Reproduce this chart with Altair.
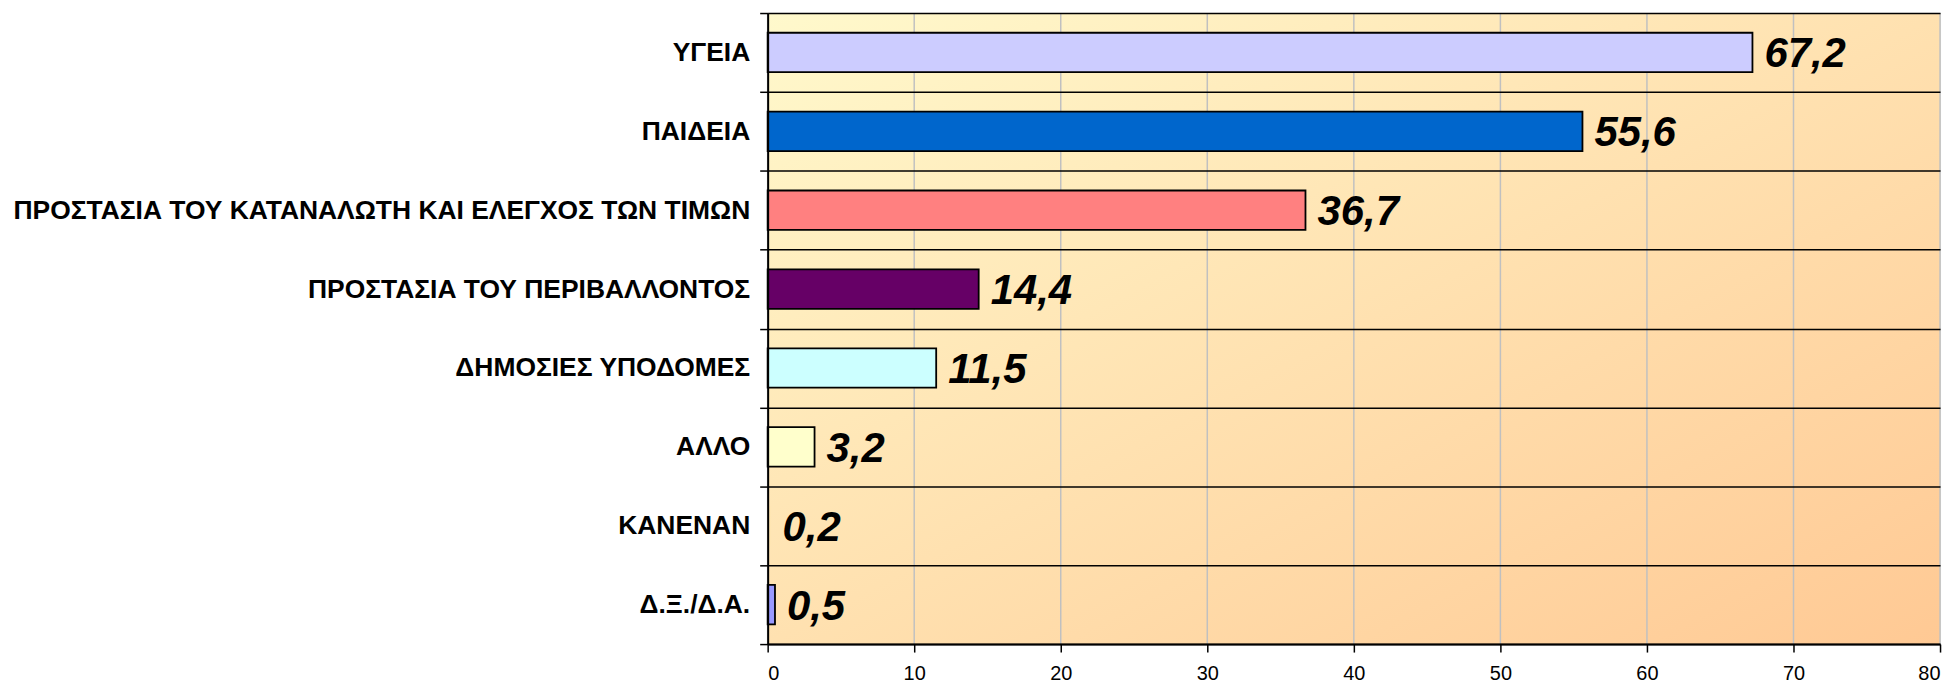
import altair as alt
import pandas as pd

categories = [
    "ΥΓΕΙΑ",
    "ΠΑΙΔΕΙΑ",
    "ΠΡΟΣΤΑΣΙΑ ΤΟΥ ΚΑΤΑΝΑΛΩΤΗ ΚΑΙ ΕΛΕΓΧΟΣ ΤΩΝ ΤΙΜΩΝ",
    "ΠΡΟΣΤΑΣΙΑ ΤΟΥ ΠΕΡΙΒΑΛΛΟΝΤΟΣ",
    "ΔΗΜΟΣΙΕΣ ΥΠΟΔΟΜΕΣ",
    "ΑΛΛΟ",
    "ΚΑΝΕΝΑΝ",
    "Δ.Ξ./Δ.Α.",
]
values = [67.2, 55.6, 36.7, 14.4, 11.5, 3.2, 0.2, 0.5]
bar_colors = ["#CCCCFF", "#0066CC", "#FF8080", "#660066", "#CCFFFF", "#FFFFCC", "#FFE6B0", "#9999FF"]
stroke_colors = ["#000000", "#000000", "#000000", "#000000", "#000000", "#000000", "transparent", "#000000"]
x_ticks = [0, 10, 20, 30, 40, 50, 60, 70, 80]

df = pd.DataFrame({"cat": categories, "value": values, "fillc": bar_colors, "strokec": stroke_colors})
ticks_df = pd.DataFrame({"t": x_ticks})

W, H = 1176, 633

x_scale = alt.Scale(domain=[0, 80], nice=False)
y_scale = alt.Scale(paddingInner=0, paddingOuter=0)

y_enc = alt.Y(
    "cat:N",
    sort=None,
    title=None,
    scale=y_scale,
    axis=alt.Axis(
        grid=True,
        gridColor="#000000",
        gridWidth=1.5,
        gridOpacity=1,
        tickBand="extent",
        ticks=True,
        tickColor="#000000",
        tickSize=8,
        tickWidth=1.5,
        domainColor="#000000",
        domainWidth=2,
        labelFont="Liberation Sans Narrow, Arial Narrow, Liberation Sans, Arial",
        labelFontWeight="bold",
        labelFontSize=26.5,
        labelColor="#000000",
        labelPadding=10,
        labelLimit=0,
        zindex=1,
    ),
)
x_enc = alt.X(
    "value:Q",
    title=None,
    scale=x_scale,
    axis=alt.Axis(
        values=x_ticks,
        grid=False,
        domainColor="#000000",
        domainWidth=2,
        tickColor="#000000",
        tickSize=8,
        tickWidth=1.5,
        labelFont="Liberation Sans, Arial",
        labelFontSize=20,
        labelColor="#000000",
        labelPadding=12,
        zindex=1,
    ),
)

bg = alt.Chart(pd.DataFrame({"k": [0]})).mark_rect(
    fill=alt.LinearGradient(
        gradient="linear",
        x1=0, y1=0, x2=1, y2=1,
        stops=[
            alt.GradientStop(offset=0, color="#FFF9CC"),
            alt.GradientStop(offset=1, color="#FFC994"),
        ],
    )
).encode(
    x=alt.value(0), x2=alt.value(W), y=alt.value(0), y2=alt.value(H)
)

vgrid = alt.Chart(ticks_df).mark_rule(color="#C0C0C0", strokeWidth=1.5).encode(
    x=alt.X("t:Q", scale=x_scale)
)

bars = alt.Chart(df).mark_bar(
    strokeWidth=1.8, height=alt.RelativeBandSize(0.5)
).encode(
    y=y_enc,
    x=x_enc,
    fill=alt.Fill("fillc:N", scale=None),
    stroke=alt.Stroke("strokec:N", scale=None),
)

texts = alt.Chart(df).transform_calculate(
    label="replace(format(datum.value, '.1f'), '.', ',')"
).mark_text(
    align="left",
    baseline="middle",
    dx=12,
    dy=2,
    font="Liberation Sans, Arial",
    fontSize=42,
    fontWeight="bold",
    fontStyle="italic",
    color="#000000",
).encode(
    y=alt.Y("cat:N", sort=None),
    x=alt.X("value:Q"),
    text="label:N",
)

chart = (
    alt.layer(bg, vgrid, bars, texts)
    .properties(
        width=W,
        height=H,
        autosize=alt.AutoSizeParams(type="none"),
        padding={"left": 762, "top": 4, "right": 12, "bottom": 43},
    )
    .configure_view(
        stroke="#8C8C8C",
        strokeWidth=2,
    )
    .configure(background="#FFFFFF")
)

chart.save("out.html", embed_options={"renderer": "svg", "actions": False})
